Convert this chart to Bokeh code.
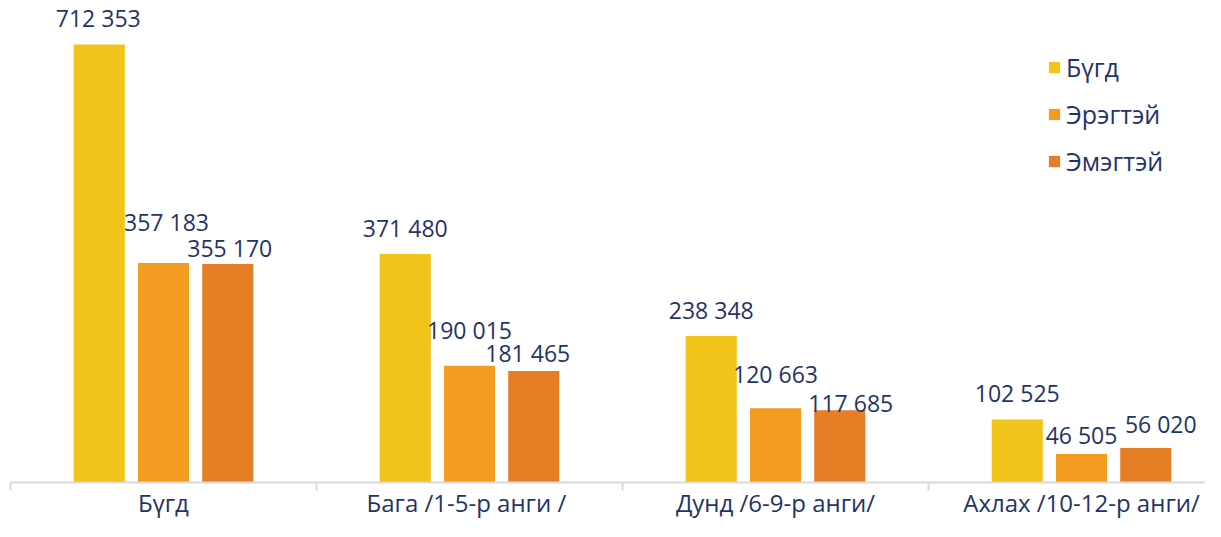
from bokeh.plotting import figure
from bokeh.models import ColumnDataSource, Range1d, LinearAxis, FixedTicker, LabelSet, Legend, LegendItem
from bokeh.embed import file_html
from bokeh.resources import INLINE
from bokeh.core.properties import value

# ---- data ----
categories = ["Бүгд", "Бага  /1-5-р анги /", "Дунд /6-9-р анги/", "Ахлах /10-12-р анги/"]
series_names = ["Бүгд", "Эрэгтэй", "Эмэгтэй"]
total = [712353, 371480, 238348, 102525]
male = [357183, 190015, 120663, 46505]
female = [355170, 181465, 117685, 56020]

# ---- layout / style ----
colors = ["#F1C31B", "#F29D20", "#E57E25"]
text_color = "#1F3468"
font = "Open Sans"
series_shift = [-0.21, 0.0, 0.21]
bar_w = 0.167
# label pixel offsets (dx, dy) per series, per category
label_dx = [[-1, 0, 0, 0], [3, 0, 0, 0], [2, -6, 11, 15]]
label_dy = [[18, 17, 17, 17], [32, 27, 25, 10], [7, 9, -2, 15]]

W, H = 1205, 521
AXIS_PANEL = 39          # expected height of the bottom axis panel
frame_h = H - AXIS_PANEL
y_end = 712353 * frame_h / 438
p = figure(width=W, height=H, output_backend="svg", toolbar_location=None,
           x_range=Range1d(0, (W - 10) / 306), y_range=Range1d(0, y_end),
           x_axis_type=None, y_axis_type=None,
           min_border_left=10, min_border_right=0, min_border_top=0, min_border_bottom=0)
p.outline_line_color = None
p.grid.visible = False
p.background_fill_color = "white"

renderers = []
for i, vals in enumerate([total, male, female]):
    xs = [k + 0.5 + series_shift[i] for k in range(len(categories))]
    src = ColumnDataSource(dict(
        x=xs, top=vals,
        lab=[f"{v:,}".replace(",", " ") for v in vals],
        dx=label_dx[i], dy=label_dy[i]))
    r = p.vbar(x="x", top="top", width=bar_w, bottom=0, source=src,
               fill_color=colors[i], line_color=None)
    renderers.append(r)
    p.add_layout(LabelSet(x="x", y="top", text="lab", source=src,
                          x_offset="dx", y_offset="dy",
                          text_align="center", text_baseline="alphabetic",
                          text_font=value(font), text_font_size="23px",
                          text_color=text_color))

# category axis: labels at centres, separator ticks at boundaries
ax = LinearAxis(ticker=FixedTicker(ticks=[k + 0.5 for k in range(len(categories))],
                                   minor_ticks=list(range(len(categories)))))
ax.major_label_overrides = {k + 0.5: c for k, c in enumerate(categories)}
ax.axis_line_color = "#D9D9D9"
ax.axis_line_width = 2
ax.major_tick_line_color = None
ax.major_tick_out = 0
ax.major_tick_in = 0
ax.minor_tick_line_color = "#D9D9D9"
ax.minor_tick_line_width = 2
ax.minor_tick_out = 8
ax.minor_tick_in = 0
ax.major_label_standoff = -5
ax.major_label_text_font = font
ax.major_label_text_font_size = "24px"
ax.major_label_text_line_height = 0.8
ax.major_label_text_color = text_color
p.add_layout(ax, "below")

legend = Legend(items=[LegendItem(label=series_names[i], renderers=[renderers[i]]) for i in range(3)],
                location=(1037, 304), orientation="vertical",
                glyph_width=14, glyph_height=14, label_standoff=5, spacing=13,
                padding=0, margin=0, border_line_color=None, background_fill_alpha=0,
                label_text_font=font, label_text_font_size="25px", label_text_color=text_color)
p.add_layout(legend)

open("out.html", "w").write(file_html(p, INLINE))
